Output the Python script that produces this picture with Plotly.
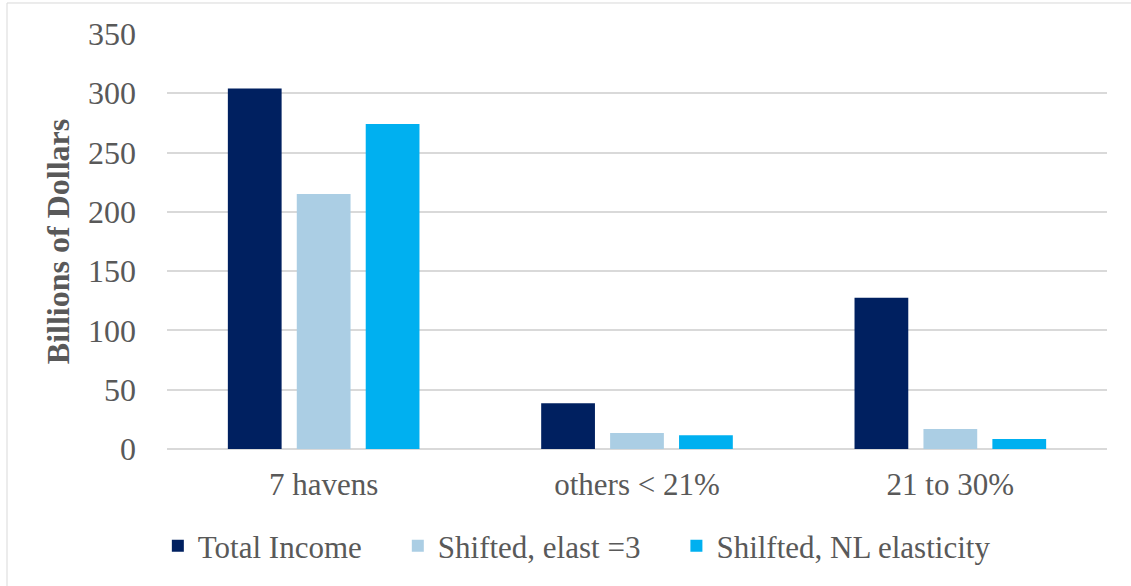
import plotly.graph_objects as go

# Income by destination group, billions of dollars
categories = ["7 havens", "others < 21%", "21 to 30%"]
total_income = [304, 38.5, 127.5]
shifted_elast3 = [215, 13.5, 16.8]
shifted_nl = [274, 11.5, 8.5]

series_names = ["Total Income", "Shifted, elast =3", "Shilfted, NL elasticity"]
series_colors = ["#002060", "#abcee4", "#00b0f0"]

y_ticks = [0, 50, 100, 150, 200, 250, 300, 350]

FONT = "Liberation Serif"
GRAY = "#595959"
GRID = "#d9d9d9"

# non-breaking spaces widen the gap between legend entries
PAD = "\u00a0" * 4

fig = go.Figure()
traces = zip(series_names, [total_income, shifted_elast3, shifted_nl], series_colors)
for i, (name, vals, col) in enumerate(traces):
    label = name + (PAD if i < len(series_names) - 1 else "")
    fig.add_trace(go.Bar(
        x=categories, y=vals, name=label,
        marker=dict(color=col, line=dict(width=0)),
    ))

fig.update_layout(
    width=1131, height=586,
    margin=dict(l=167, r=24, t=34, b=137),
    paper_bgcolor="white", plot_bgcolor="white",
    barmode="group", bargap=0.34, bargroupgap=0.22,
    font=dict(family=FONT, color=GRAY),
    showlegend=True,
    legend=dict(
        orientation="h", x=0.436, xanchor="center", y=-0.234, yanchor="middle",
        font=dict(family=FONT, size=31, color=GRAY),
        bgcolor="rgba(0,0,0,0)",
    ),
    xaxis=dict(
        showgrid=False, showline=False, zeroline=False,
        tickfont=dict(family=FONT, size=31, color=GRAY),
        ticks="", ticklabelstandoff=14,
    ),
    yaxis=dict(
        range=[0, 350], tickvals=y_ticks,
        showgrid=True, gridcolor=GRID, gridwidth=1.5,
        zeroline=True, zerolinecolor=GRID, zerolinewidth=1.5,
        showline=False, ticks="", ticklabelstandoff=30,
        tickfont=dict(family=FONT, size=32, color=GRAY),
        title=dict(text="<b>Billions of Dollars</b>", standoff=8,
                   font=dict(family=FONT, size=32, color=GRAY)),
    ),
    shapes=[dict(
        type="rect", xref="paper", yref="paper",
        x0=-0.1702, x1=1.04, y0=-0.35, y1=1.0747,
        line=dict(color=GRID, width=1), fillcolor="rgba(0,0,0,0)", layer="below",
    )],
)

fig.write_html("out.html")
